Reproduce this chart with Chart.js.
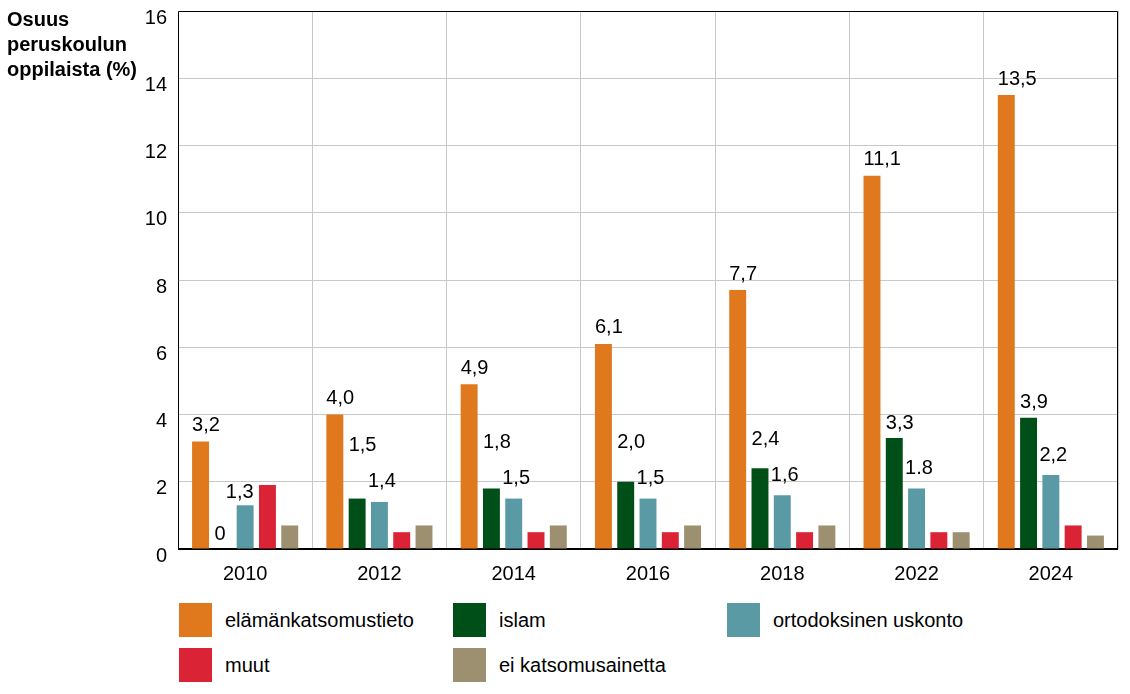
<!DOCTYPE html>
<html>
<head>
<meta charset="utf-8">
<script src="https://cdn.jsdelivr.net/npm/chart.js@4.4.1/dist/chart.umd.min.js"></script>
<style>
    body { margin: 0; background: #fff; font-family: "Liberation Sans", Arial, sans-serif; }
    #wrap { position: relative; width: 1130px; height: 694px; }
    #chartBox { position: absolute; left: 0; top: 0; width: 1130px; height: 592px; }
    #yTitle { position: absolute; left: 7px; top: 7px; font-weight: bold; font-size: 20px; line-height: 25px; color: #000; }
    .legend-item { position: absolute; height: 34px; display: flex; align-items: center; font-size: 20px; color: #000; }
    .legend-item span.box { width: 33px; height: 34px; margin-right: 13px; display: inline-block; }
</style>
</head>
<body>
<div id="wrap">
    <div id="chartBox"><canvas id="chart"></canvas></div>
    <div id="yTitle">Osuus<br>peruskoulun<br>oppilaista (%)</div>
    <div id="legend"></div>
</div>
<script>
// Data
const years = ['2010', '2012', '2014', '2016', '2018', '2022', '2024'];
const seriesNames = ['elämänkatsomustieto', 'islam', 'ortodoksinen uskonto', 'muut', 'ei katsomusainetta'];
const seriesColors = ['#E0781E', '#004F19', '#5A9AA4', '#DA2335', '#9C9070'];

const elamankatsomustieto = [3.2, 4.0, 4.9, 6.1, 7.7, 11.1, 13.5];
const islam = [0, 1.5, 1.8, 2.0, 2.4, 3.3, 3.9];
const ortodoksinen = [1.3, 1.4, 1.5, 1.5, 1.6, 1.8, 2.2];
const muut = [1.9, 0.5, 0.5, 0.5, 0.5, 0.5, 0.7];
const eiKatsomusainetta = [0.7, 0.7, 0.7, 0.7, 0.7, 0.5, 0.4];

// value labels as printed in the original
const elamaLabels = ['3,2', '4,0', '4,9', '6,1', '7,7', '11,1', '13,5'];
const islamLabels = ['0', '1,5', '1,8', '2,0', '2,4', '3,3', '3,9'];
const ortoLabels = ['1,3', '1,4', '1,5', '1,5', '1,6', '1.8', '2,2'];

const yTicks = [0, 2, 4, 6, 8, 10, 12, 14, 16];

const seriesData = [elamankatsomustieto, islam, ortodoksinen, muut, eiKatsomusainetta];

const FONT = '"Liberation Sans", Arial, sans-serif';

// frame around the plot area
const framePlugin = {
    id: 'frame',
    beforeDatasetsDraw(chart) {
        const a = chart.chartArea;
        const ctx = chart.ctx;
        ctx.save();
        ctx.strokeStyle = '#000';
        ctx.lineWidth = 1;
        ctx.beginPath();
        ctx.moveTo(a.left + 0.5, a.bottom);
        ctx.lineTo(a.left + 0.5, a.top + 0.5);
        ctx.lineTo(a.right - 0.5, a.top + 0.5);
        ctx.lineTo(a.right - 0.5, a.bottom);
        ctx.stroke();
        ctx.lineWidth = 2;
        ctx.beginPath();
        ctx.moveTo(a.left, a.bottom);
        ctx.lineTo(a.right, a.bottom);
        ctx.stroke();
        ctx.restore();
    }
};

// value labels above the first three series (left edge at bar's left edge)
const valueLabelPlugin = {
    id: 'valueLabels',
    afterDatasetsDraw(chart) {
        const ctx = chart.ctx;
        ctx.save();
        ctx.font = '20px ' + FONT;
        ctx.fillStyle = '#000';
        ctx.textBaseline = 'middle';
        const m0 = chart.getDatasetMeta(0).data;
        const m1 = chart.getDatasetMeta(1).data;
        const m2 = chart.getDatasetMeta(2).data;
        const m3 = chart.getDatasetMeta(3).data;
        for (let i = 0; i < years.length; i++) {
            ctx.textAlign = 'left';
            ctx.fillText(elamaLabels[i], m0[i].x - m0[i].width / 2, m0[i].y - 16);

            // orthodox label: move it left of the red bar when that bar is tall
            let ortoY = m2[i].y - 20;
            if (m3[i].y < ortoY + 10) {
                ortoY = m2[i].y - 13;
                ctx.textAlign = 'right';
                ctx.fillText(ortoLabels[i], m2[i].x + m2[i].width / 2, ortoY);
            } else {
                ctx.fillText(ortoLabels[i], m2[i].x - m2[i].width / 2 - 3, ortoY);
            }

            ctx.textAlign = 'left';
            let islamY = m1[i].y - 15;
            if (islam[i] > 0) islamY = Math.min(islamY, ortoY - 36);
            ctx.fillText(islamLabels[i], m1[i].x - m1[i].width / 2, islamY);
        }
        ctx.restore();
    }
};

const ctx = document.getElementById('chart').getContext('2d');
const chart = new Chart(ctx, {
    type: 'bar',
    data: {
        labels: years,
        datasets: seriesNames.map((name, i) => ({
            label: name,
            data: seriesData[i],
            backgroundColor: seriesColors[i],
            borderWidth: 0,
            categoryPercentage: 0.83,
            barPercentage: 0.76
        }))
    },
    options: {
        responsive: true,
        maintainAspectRatio: false,
        animation: false,
        layout: { padding: { left: 0, right: 12, top: 11, bottom: 0 } },
        plugins: {
            legend: { display: false },
            tooltip: { enabled: false }
        },
        scales: {
            x: {
                grid: { color: '#c8c8c8', lineWidth: 1, offset: true, drawTicks: false },
                border: { display: false },
                ticks: { color: '#000', font: { size: 20, family: FONT }, padding: 13 },
                afterFit(scale) {
                    scale.height = 43;
                    scale.paddingLeft = 0;
                    scale.paddingRight = 0;
                }
            },
            y: {
                min: 0,
                max: 16,
                grid: { color: '#c8c8c8', lineWidth: 1, drawTicks: false },
                border: { display: false },
                afterBuildTicks(scale) { scale.ticks = yTicks.map(v => ({ value: v })); },
                ticks: {
                    color: '#000',
                    font: { size: 20, family: FONT },
                    padding: 11,
                    labelOffset: 7
                },
                afterFit(scale) {
                    scale.width = 178;
                    scale.paddingTop = 0;
                    scale.paddingBottom = 0;
                }
            }
        }
    },
    plugins: [framePlugin, valueLabelPlugin]
});

// legend laid out like the original (3 columns, 2 rows)
const legendCols = [179, 453, 727];
const legendRows = [603, 648];
const legend = document.getElementById('legend');
chart.data.datasets.forEach((ds, i) => {
    const item = document.createElement('div');
    item.className = 'legend-item';
    item.style.left = legendCols[i % 3] + 'px';
    item.style.top = legendRows[Math.floor(i / 3)] + 'px';
    item.innerHTML = `<span class="box" style="background:${ds.backgroundColor}"></span>${ds.label}`;
    legend.appendChild(item);
});
</script>
</body>
</html>
